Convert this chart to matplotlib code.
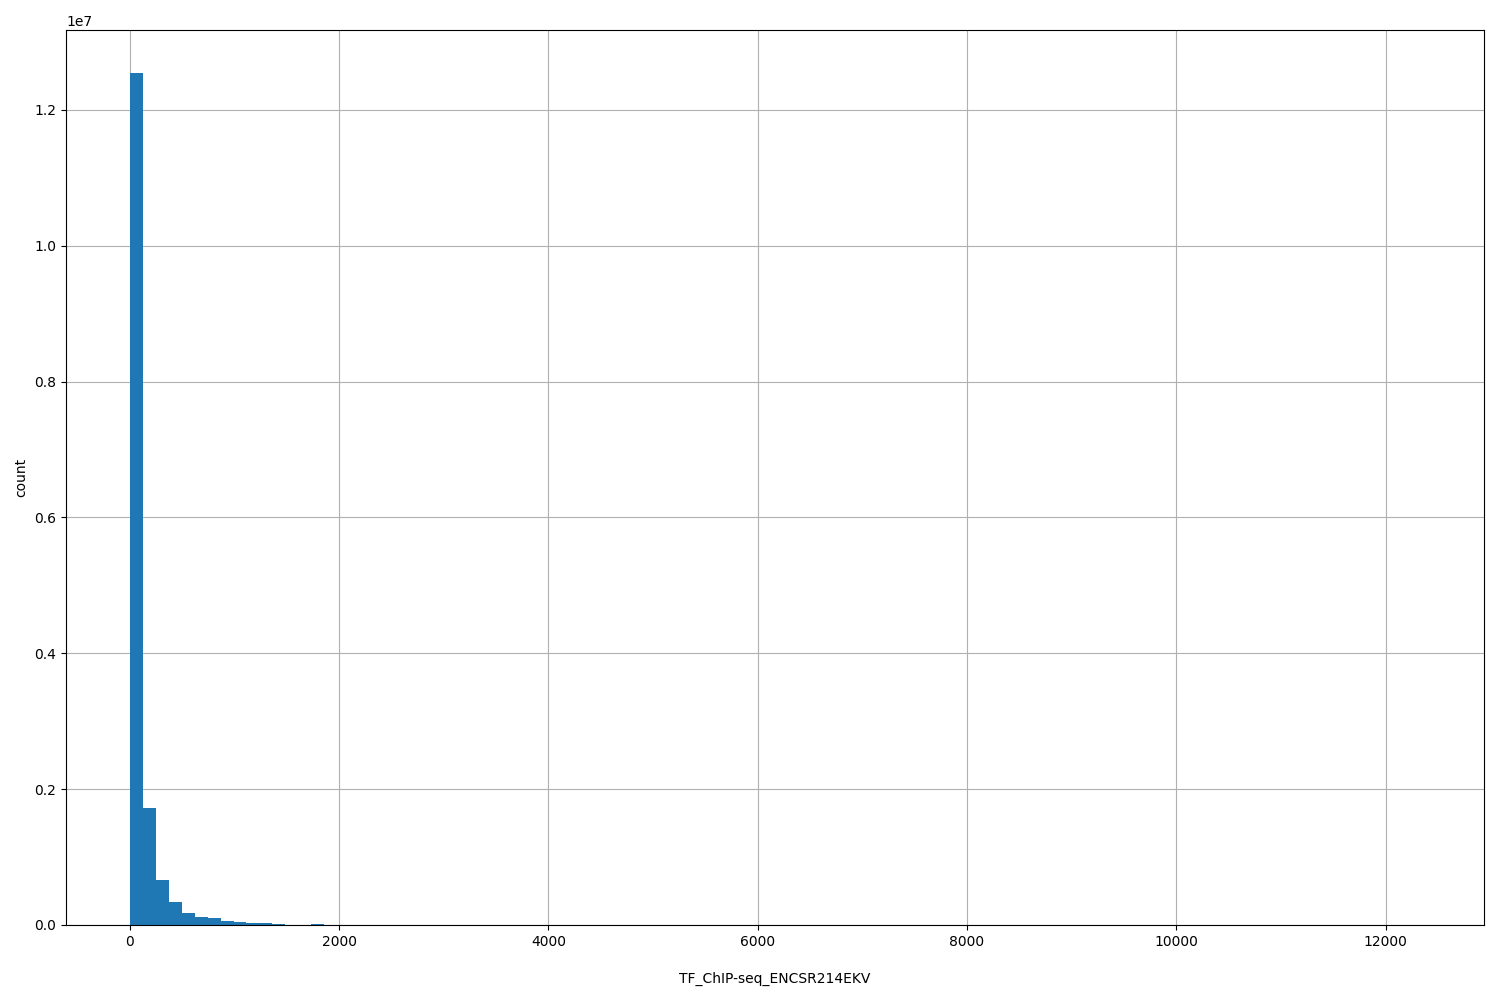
import matplotlib
matplotlib.use('Agg')
import matplotlib.pyplot as plt
import numpy as np

# histogram: 100 equal bins between min and max of the data
data_min = 5
data_max = 12320
n_bins = 100

# counts of the visible bins (the rest are tiny tails)
head_counts = [12550000, 1720000, 663000, 339000, 177000, 118000, 103000,
               59000, 44000, 30000, 30000, 15000, 4000, 2000, 15000, 1500,
               1200, 900, 700, 500]
tail_counts = [300] * 30 + [100] * 30 + [20] * 19 + [1]

counts = head_counts + tail_counts
edges = np.linspace(data_min, data_max, n_bins + 1)
centers = (edges[:-1] + edges[1:]) / 2

fig = plt.figure(figsize=(15, 10), dpi=100)
ax = fig.add_axes([0.044, 0.075, 0.945, 0.895])
ax.hist(centers, bins=edges, weights=counts, color='#1f77b4', zorder=2)
ax.grid(True, color='#b0b0b0', zorder=0)
ax.set_axisbelow(True)
ax.set_xlabel('TF_ChIP-seq_ENCSR214EKV', labelpad=17)
ax.set_ylabel('count', labelpad=4.5)

plt.savefig('out.png')
